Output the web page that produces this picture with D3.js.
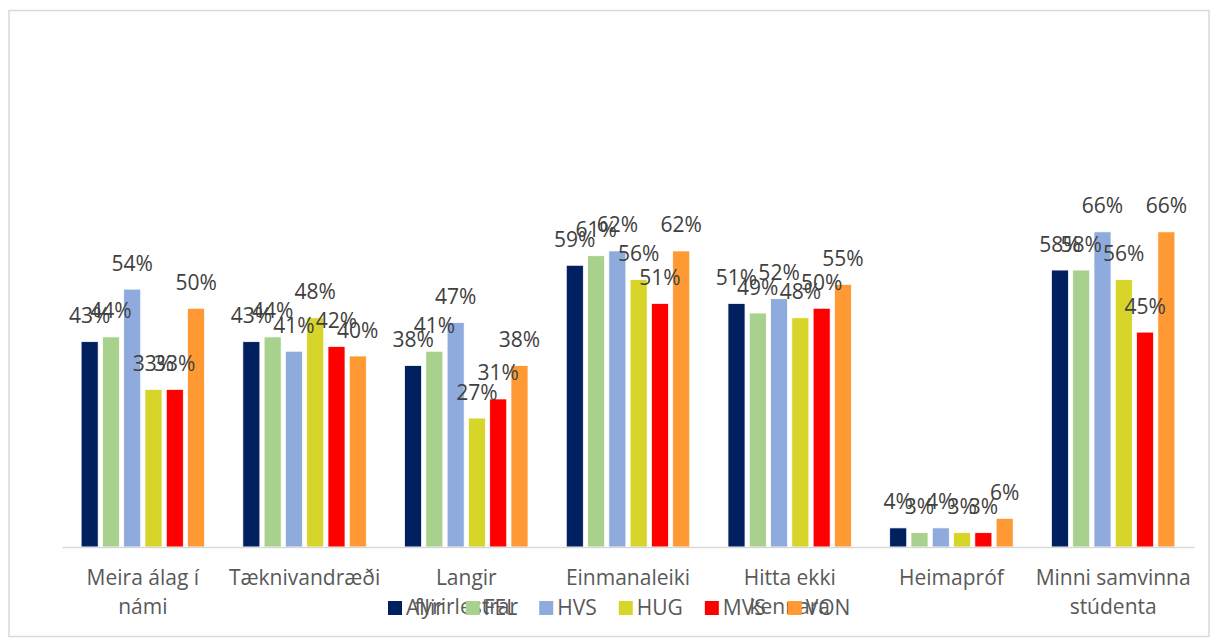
<!DOCTYPE html>
<html>
<head>
<meta charset="utf-8">
<script src="https://cdn.jsdelivr.net/npm/d3@7"></script>
<style>
  html, body { margin: 0; padding: 0; background: #fff; }
  svg { display: block; }
  text { font-family: "Open Sans", "Liberation Sans", sans-serif; }
</style>
</head>
<body>
<svg id="chart" width="1215" height="643"></svg>
<script>
// Categories (each label split into display lines)
const categories = [
  ["Meira álag í", "námi"],
  ["Tæknivandræði"],
  ["Langir", "fyrirlestrar"],
  ["Einmanaleiki"],
  ["Hitta ekki", "kennara"],
  ["Heimapróf"],
  ["Minni samvinna", "stúdenta"]
];
const seriesNames = ["Allir", "FEL", "HVS", "HUG", "MVS", "VON"];
const seriesColors = ["#002060", "#a9d18e", "#8faadc", "#d7d42a", "#ff0000", "#ff9933"];

// Percent values per series, in category order
const allir = [43, 43, 38, 59, 51, 4, 58];
const fel   = [44, 44, 41, 61, 49, 3, 58];
const hvs   = [54, 41, 47, 62, 52, 4, 66];
const hug   = [33, 48, 27, 56, 48, 3, 56];
const mvs   = [33, 42, 31, 51, 50, 3, 45];
const von   = [50, 40, 38, 62, 55, 6, 66];
const seriesValues = [allir, fel, hvs, hug, mvs, von];

const FONT = 21;
const svg = d3.select("#chart");

// Chart area border
svg.append("rect")
  .attr("x", 9).attr("y", 10.5)
  .attr("width", 1200).attr("height", 626)
  .attr("fill", "#fff")
  .attr("stroke", "#d9d9d9").attr("stroke-width", 1.5);

const plot = { left: 62, right: 1194, bottom: 547 };

const x0 = d3.scaleBand()
  .domain(d3.range(categories.length))
  .range([plot.left, plot.right]);

const x1 = d3.scaleBand()
  .domain(d3.range(seriesNames.length))
  .range([17, x0.bandwidth() - 17])
  .paddingInner(0.2)
  .paddingOuter(0.1);

const y = d3.scaleLinear().domain([0, 80]).range([plot.bottom, 165]);

// Bars and value labels
const groups = svg.append("g").selectAll("g")
  .data(categories.map((c, i) => i))
  .join("g")
  .attr("transform", i => `translate(${x0(i)},0)`);

groups.selectAll("rect")
  .data(i => seriesValues.map((vals, s) => ({ s, v: vals[i] })))
  .join("rect")
  .attr("x", d => x1(d.s))
  .attr("y", d => y(d.v))
  .attr("width", x1.bandwidth())
  .attr("height", d => y(0) - y(d.v))
  .attr("fill", d => seriesColors[d.s])
  .attr("stroke", "#ffffff")
  .attr("stroke-width", 0.75);

groups.selectAll("text")
  .data(i => seriesValues.map((vals, s) => ({ s, v: vals[i] })))
  .join("text")
  .attr("x", d => x1(d.s) + x1.bandwidth() / 2)
  .attr("y", d => y(d.v) - 18.5)
  .attr("text-anchor", "middle")
  .attr("font-size", FONT)
  .attr("fill", "#404040")
  .text(d => d.v + "%");

// Category axis
const xAxis = d3.axisBottom(x0).tickSize(0).tickFormat("");
const axisG = svg.append("g")
  .attr("transform", `translate(0,${plot.bottom})`)
  .call(xAxis);
axisG.select(".domain").attr("stroke", "#d9d9d9").attr("stroke-width", 1.5);

const catLabels = svg.append("g").selectAll("text")
  .data(categories.map((lines, i) => ({ lines, i })))
  .join("text")
  .attr("text-anchor", "middle")
  .attr("font-size", FONT)
  .attr("fill", "#595959")
  .attr("transform", d => `translate(${x0(d.i) + x0.bandwidth() / 2},585)`);

catLabels.selectAll("tspan")
  .data(d => d.lines)
  .join("tspan")
  .attr("x", 0)
  .attr("dy", (l, j) => j === 0 ? 0 : 29)
  .text(l => l);

// Legend laid out left to right from measured text widths
const legend = svg.append("g").attr("transform", "translate(388,0)");
let lx = 0;
seriesNames.forEach((name, s) => {
  const item = legend.append("g").attr("transform", `translate(${lx},0)`);
  item.append("rect")
    .attr("x", 0).attr("y", 601)
    .attr("width", 14).attr("height", 14)
    .attr("fill", seriesColors[s]);
  const t = item.append("text")
    .attr("x", 18).attr("y", 615)
    .attr("font-size", FONT)
    .attr("fill", "#595959")
    .text(name);
  lx += 18 + t.node().getComputedTextLength() + 22;
});
</script>
</body>
</html>
